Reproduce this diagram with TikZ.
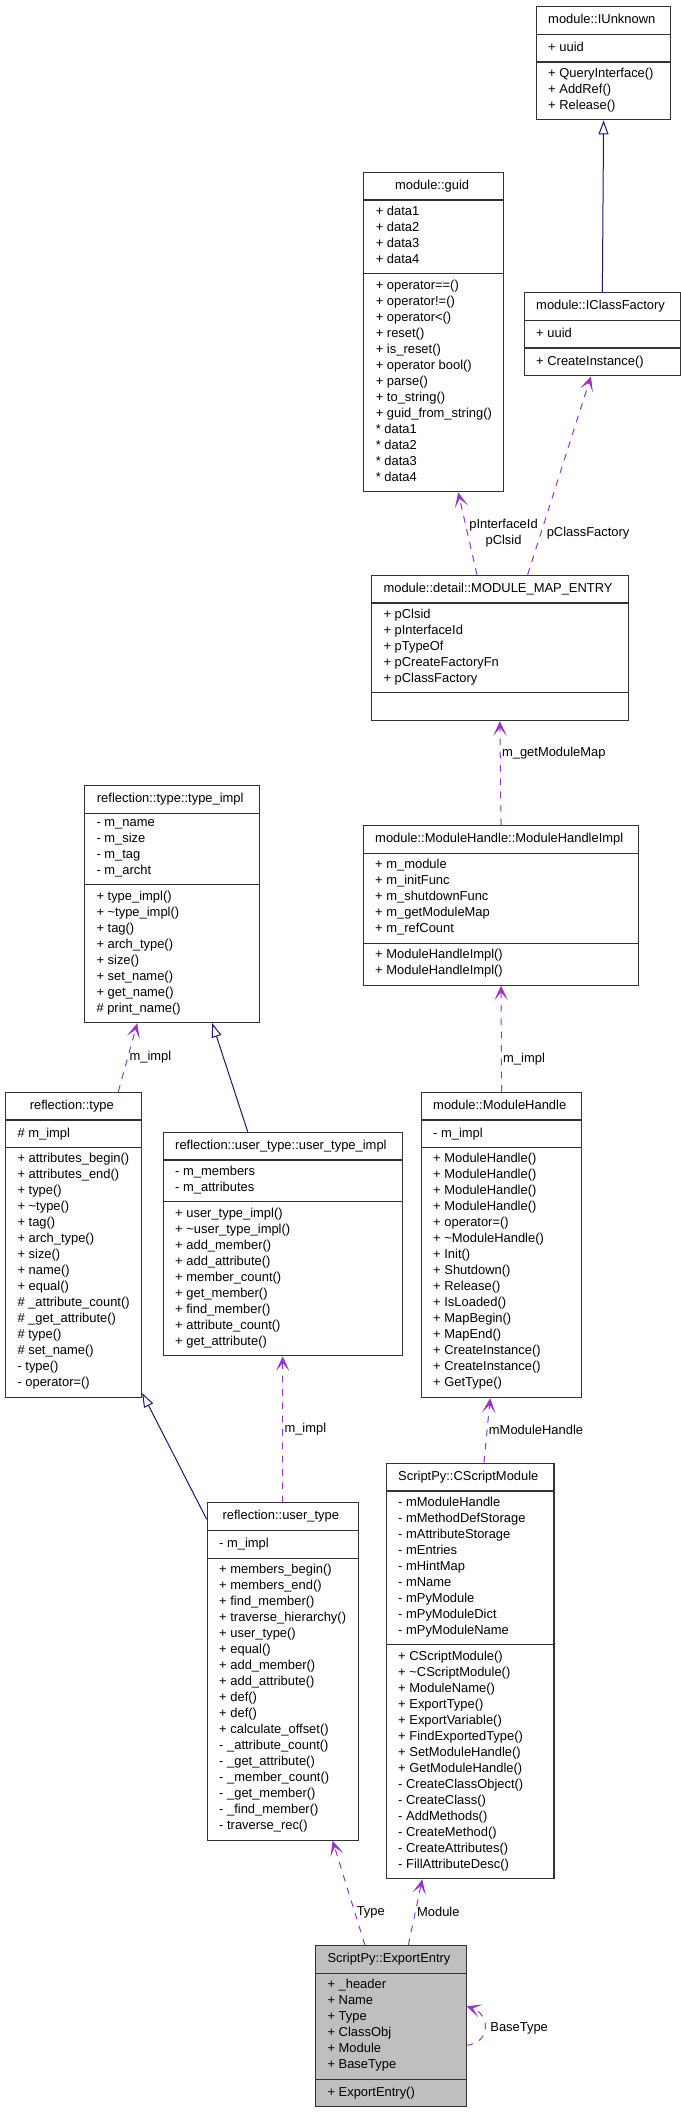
\documentclass[tikz,border=0pt]{standalone}
\usepackage{fontspec}
\newfontfamily\diafont{Liberation Sans}
\usetikzlibrary{shapes.multipart,arrows.meta,calc}
\definecolor{usecol}{RGB}{154,50,205}
\definecolor{inhcol}{RGB}{25,25,112}
\definecolor{boxgray}{RGB}{191,191,191}
\newcommand{\classfont}{\diafont\fontsize{9.7}{12}\selectfont}
\tikzset{
  classbox/.style={rectangle split, rectangle split parts=3, rectangle split ignore empty parts=false,
    rectangle split part align={center,left,left}, draw=black!80, line width=0.8pt, fill=white,
    anchor=north west, font=\classfont, align=left, inner xsep=9pt, inner ysep=4pt,
    execute at begin node=\strut, execute at end node=\strut},
  boxw/.style={minimum width=#1*0.75pt},
  uses/.style={usecol, dash pattern=on 5pt off 5pt, line width=0.75pt,
    -{Stealth[length=11pt,width=10pt,inset=6pt]}},
  inherit/.style={inhcol, line width=0.75pt, -{Triangle[open,length=10.5pt,width=7.5pt,fill=white]}},
  lbl/.style={font=\classfont, text=black, inner sep=1pt, anchor=west}
}
\begin{document}
\begin{tikzpicture}[x=0.75pt,y=-0.75pt]
\useasboundingbox (0,0) rectangle (681,2112);

\node[classbox, boxw=128] (iunknown) at (535.7,6) {module::IUnknown
  \nodepart{second}+ uuid
  \nodepart{third}+ QueryInterface()\\+ AddRef()\\+ Release()};
\node[classbox, boxw=152] (cfactory) at (523.7,292) {module::IClassFactory
  \nodepart{second}+ uuid
  \nodepart{third}+ CreateInstance()};
\node[classbox, boxw=136.7] (guid) at (363.3,171.7) {module::guid
  \nodepart{second}+ data1\\+ data2\\+ data3\\+ data4
  \nodepart{third}+ operator==()\\+ operator!=()\\+ operator<()\\+ reset()\\+ is\_reset()\\+ operator bool()\\+ parse()\\+ to\_string()\\+ guid\_from\_string()\\{}* data1\\{}* data2\\{}* data3\\{}* data4};
\node[classbox, boxw=252.3] (mme) at (371,574.7) {module::detail::MODULE\_MAP\_ENTRY
  \nodepart{second}+ pClsid\\+ pInterfaceId\\+ pTypeOf\\+ pCreateFactoryFn\\+ pClassFactory
  \nodepart{third}};
\node[classbox, boxw=269] (mhimpl) at (362.7,825) {module::ModuleHandle::ModuleHandleImpl
  \nodepart{second}+ m\_module\\+ m\_initFunc\\+ m\_shutdownFunc\\+ m\_getModuleMap\\+ m\_refCount
  \nodepart{third}+ ModuleHandleImpl()\\+ ModuleHandleImpl()};
\node[classbox, boxw=153.3] (mhandle) at (420.7,1091.7) {module::ModuleHandle
  \nodepart{second}- m\_impl
  \nodepart{third}+ ModuleHandle()\\+ ModuleHandle()\\+ ModuleHandle()\\+ ModuleHandle()\\+ operator=()\\+ \textasciitilde ModuleHandle()\\+ Init()\\+ Shutdown()\\+ Release()\\+ IsLoaded()\\+ MapBegin()\\+ MapEnd()\\+ CreateInstance()\\+ CreateInstance()\\+ GetType()};
\node[classbox, boxw=175] (typeimpl) at (84,785) {reflection::type::type\_impl
  \nodepart{second}- m\_name\\- m\_size\\- m\_tag\\- m\_archt
  \nodepart{third}+ type\_impl()\\+ \textasciitilde type\_impl()\\+ tag()\\+ arch\_type()\\+ size()\\+ set\_name()\\+ get\_name()\\\# print\_name()};
\node[classbox, boxw=134] (rtype) at (5,1091.7) {reflection::type
  \nodepart{second}\# m\_impl
  \nodepart{third}+ attributes\_begin()\\+ attributes\_end()\\+ type()\\+ \textasciitilde type()\\+ tag()\\+ arch\_type()\\+ size()\\+ name()\\+ equal()\\\# \_attribute\_count()\\\# \_get\_attribute()\\\# type()\\\# set\_name()\\- type()\\- operator=()};
\node[classbox, boxw=234.7] (uti) at (162.7,1131.7) {reflection::user\_type::user\_type\_impl
  \nodepart{second}- m\_members\\- m\_attributes
  \nodepart{third}+ user\_type\_impl()\\+ \textasciitilde user\_type\_impl()\\+ add\_member()\\+ add\_attribute()\\+ member\_count()\\+ get\_member()\\+ find\_member()\\+ attribute\_count()\\+ get\_attribute()};
\node[classbox, boxw=146.7] (utype) at (206.7,1502.3) {reflection::user\_type
  \nodepart{second}- m\_impl
  \nodepart{third}+ members\_begin()\\+ members\_end()\\+ find\_member()\\+ traverse\_hierarchy()\\+ user\_type()\\+ equal()\\+ add\_member()\\+ add\_attribute()\\+ def()\\+ def()\\+ calculate\_offset()\\- \_attribute\_count()\\- \_get\_attribute()\\- \_member\_count()\\- \_get\_member()\\- \_find\_member()\\- traverse\_rec()};
\node[classbox, boxw=164.3] (csm) at (385.7,1462.7) {ScriptPy::CScriptModule
  \nodepart{second}- mModuleHandle\\- mMethodDefStorage\\- mAttributeStorage\\- mEntries\\- mHintMap\\- mName\\- mPyModule\\- mPyModuleDict\\- mPyModuleName
  \nodepart{third}+ CScriptModule()\\+ \textasciitilde CScriptModule()\\+ ModuleName()\\+ ExportType()\\+ ExportVariable()\\+ FindExportedType()\\+ SetModuleHandle()\\+ GetModuleHandle()\\- CreateClassObject()\\- CreateClass()\\- AddMethods()\\- CreateMethod()\\- CreateAttributes()\\- FillAttributeDesc()};
\node[classbox, boxw=148.3, fill=boxgray] (expentry) at (315,1945) {ScriptPy::ExportEntry
  \nodepart{second}+ \_header\\+ Name\\+ Type\\+ ClassObj\\+ Module\\+ BaseType
  \nodepart{third}+ ExportEntry()};

\draw[inherit] (cfactory.north) -- (iunknown.south);
\draw[inherit] ($(uti.north)+(-35,0)$) -- ($(typeimpl.south)+(40.2,0)$);
\draw[inherit] ($(utype.north west)+(0,17)$) -- ($(rtype.south east)+(0,-5)$);

\draw[uses] ($(mme.north)+(-22.9,0)$) -- ($(guid.south)+(24.3,0)$)
  node[lbl, pos=0.5, align=center] (lbliid) {pInterfaceId\\pClsid};
\draw[uses] ($(mme.north)+(27.8,0)$) -- ($(cfactory.south)+(-11.4,0)$)
  node[lbl, pos=0.21, xshift=3pt] (lblcf) {pClassFactory};
\draw[uses] (mhimpl.north) -- (mme.south) node[lbl, pos=0.69] (lblmap) {m\_getModuleMap};
\draw[uses] (mhandle.north) -- (mhimpl.south) node[lbl, pos=0.31] (lblmh) {m\_impl};
\draw[uses] ($(csm.north)+(13.85,0)$) -- ($(mhandle.south)+(-11.35,0)$)
  node[lbl, pos=0.51] (lblcsm) {mModuleHandle};
\draw[uses] ($(rtype.north)+(44.7,0)$) -- ($(typeimpl.south)+(-34.8,0)$)
  node[lbl, pos=0.5] (lbltype) {m\_impl};
\draw[uses] (utype.north) -- (uti.south) node[lbl, pos=0.5] (lblut) {m\_impl};
\draw[uses] ($(expentry.north)+(-25.85,0)$) -- ($(utype.south)+(49.95,0)$)
  node[lbl, pos=0.31] (lbleet) {Type};
\draw[uses] ($(expentry.north)+(17.55,0)$) -- ($(csm.south)+(-47.85,0)$)
  node[lbl, pos=0.5] (lbleem) {Module};
\draw[uses] ($(expentry.east)+(0,19)$) .. controls +(24,-2) and +(24,8) .. ($(expentry.east)+(0,-20)$)
  node[lbl, pos=0.5, xshift=3pt] (lblbase) {BaseType};

\end{tikzpicture}
\end{document}
